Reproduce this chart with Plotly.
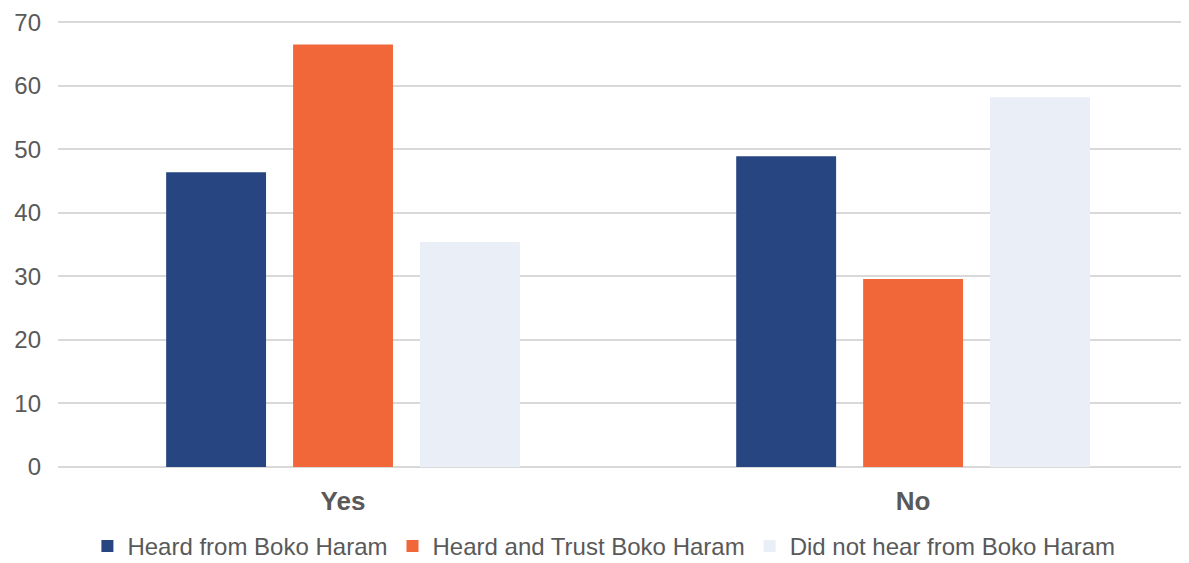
import plotly.graph_objects as go

categories = ["Yes", "No"]
series_names = ["Heard from Boko Haram", "Heard and Trust Boko Haram", "Did not hear from Boko Haram"]
heard = [46.4, 48.9]
heard_trust = [66.5, 29.6]
not_heard = [35.4, 58.2]
y_ticks = [0, 10, 20, 30, 40, 50, 60, 70]

colors = ["#264581", "#F1673A", "#E9EEF7"]
values = [heard, heard_trust, not_heard]

fig = go.Figure()
for name, vals, col in zip(series_names, values, colors):
    fig.add_trace(go.Bar(x=categories, y=vals, name=name,
                         marker=dict(color=col, line=dict(width=0))))

font_family = "Liberation Sans, Arial, sans-serif"
fig.update_layout(
    width=1181, height=555,
    margin=dict(l=50, r=0, t=13, b=96, autoexpand=False),
    plot_bgcolor="white", paper_bgcolor="white",
    barmode="group", bargap=0.332, bargroupgap=0.213,
    font=dict(family=font_family, color="#595959", size=24),
    xaxis=dict(range=[-0.5, 1.484], showgrid=False, showline=False, zeroline=False,
               automargin=False,
               tickfont=dict(size=26, family=font_family, color="#595959", weight="bold"),
               ticklabelstandoff=16),
    yaxis=dict(range=[0, 70.2], tickvals=y_ticks, showgrid=True, gridcolor="#D9D9D9",
               gridwidth=1.5, zeroline=True, zerolinecolor="#D9D9D9", zerolinewidth=1.5,
               showline=False, automargin=False, tickfont=dict(size=24, color="#595959"),
               ticklabelstandoff=16),
    legend=dict(orientation="h", x=0.026, xanchor="left", y=-0.178, yanchor="middle",
                font=dict(size=24, color="#595959"), bgcolor="rgba(0,0,0,0)"),
    showlegend=True,
)

fig.write_html("out.html")
